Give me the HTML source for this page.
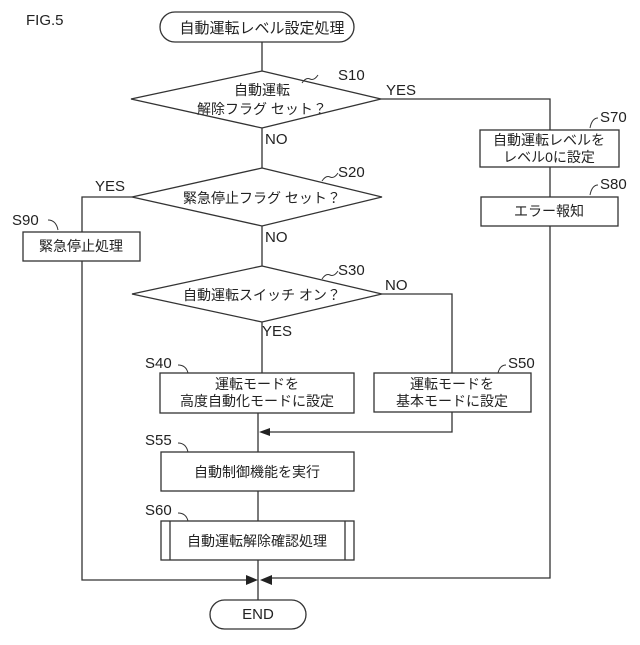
<!DOCTYPE html>
<html><head><meta charset="utf-8"><style>body{margin:0;background:#fff}</style></head><body>
<svg width="640" height="640" viewBox="0 0 640 640" xmlns="http://www.w3.org/2000/svg" font-family="'Liberation Sans','Noto Sans CJK JP',sans-serif" fill="none" stroke="#333" stroke-width="1.3">
<g fill="#222" stroke="none" font-size="14">
<text x="26" y="25" font-size="15">FIG.5</text>
<text x="262" y="33" text-anchor="middle" font-size="15">自動運転レベル設定処理</text>
<text x="262" y="95" text-anchor="middle">自動運転</text>
<text x="262" y="114" text-anchor="middle">解除フラグ セット？</text>
<text x="262" y="203" text-anchor="middle">緊急停止フラグ セット？</text>
<text x="262" y="300" text-anchor="middle">自動運転スイッチ オン？</text>
<text x="549" y="145" text-anchor="middle">自動運転レベルを</text>
<text x="549" y="162" text-anchor="middle">レベル0に設定</text>
<text x="549" y="216" text-anchor="middle">エラー報知</text>
<text x="81" y="251" text-anchor="middle">緊急停止処理</text>
<text x="257" y="389" text-anchor="middle">運転モードを</text>
<text x="257" y="406" text-anchor="middle">高度自動化モードに設定</text>
<text x="452" y="389" text-anchor="middle">運転モードを</text>
<text x="452" y="406" text-anchor="middle">基本モードに設定</text>
<text x="257" y="477" text-anchor="middle">自動制御機能を実行</text>
<text x="257" y="546" text-anchor="middle">自動運転解除確認処理</text>
<text x="258" y="619" text-anchor="middle" font-size="15">END</text>
<g font-size="15">
<text x="338" y="80">S10</text><text x="338" y="177">S20</text><text x="338" y="275">S30</text>
<text x="600" y="122">S70</text><text x="600" y="189">S80</text><text x="12" y="225">S90</text>
<text x="145" y="368">S40</text><text x="508" y="368">S50</text><text x="145" y="445">S55</text><text x="145" y="515">S60</text>
<text x="386" y="95">YES</text><text x="265" y="144">NO</text><text x="95" y="191">YES</text><text x="265" y="242">NO</text>
<text x="385" y="290">NO</text><text x="262" y="336">YES</text>
</g>
</g>
<rect x="160" y="12" width="194" height="30" rx="15"/>
<rect x="210" y="600" width="96" height="29" rx="14.5"/>
<polygon points="262,71 381,99 262,128 131,99"/>
<polygon points="262,168 382,197 262,226 132,197"/>
<polygon points="262,266 382,294 262,322 132,294"/>
<rect x="480" y="130" width="139" height="37"/>
<rect x="481" y="197" width="137" height="29"/>
<rect x="23" y="232" width="117" height="29"/>
<rect x="160" y="373" width="194" height="40"/>
<rect x="374" y="373" width="157" height="39"/>
<rect x="161" y="452" width="193" height="39"/>
<rect x="161" y="521" width="193" height="39"/>
<line x1="170" y1="521" x2="170" y2="560"/><line x1="345" y1="521" x2="345" y2="560"/>
<path d="M262 42V71M262 128V168M262 226V266M262 322V373M258 413V452M258 491V521M258 560V600"/>
<path d="M381 99H550V130M550 167V197M550 226V578H268"/>
<path d="M132 197H82V232M82 261V580H250"/>
<path d="M382 294H452V373M452 412V432H268"/>
<g fill="#222" stroke="none">
<polygon points="259,432 270,428 270,436"/>
<polygon points="258,580 246,575 246,585"/>
<polygon points="260,580 272,575 272,585"/>
</g>
<path d="M318 75q-4 6-8 4t-8 4M338 173q-4 6-8 4t-8 4M338 271q-4 6-8 4t-8 4M598 118q-6 0-8 10M598 185q-6 0-8 10M48 220q8 0 10 10M178 365q8 0 10 8M506 365q-6 0-8 8M178 443q8 0 10 9M178 513q8 0 10 8" stroke-width="1"/>
</svg>
</body></html>
